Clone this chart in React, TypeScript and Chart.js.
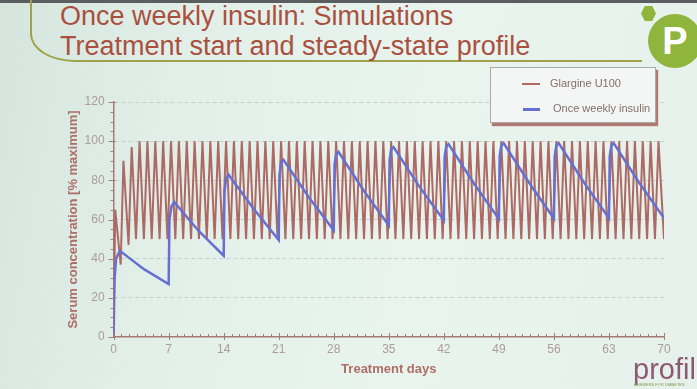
import React, { useEffect, useRef } from "react";
import { Chart, registerables } from "chart.js";

Chart.register(...registerables);

// ---- data ----
const xTickValues = [0, 7, 14, 21, 28, 35, 42, 49, 56, 63, 70];
const yTickValues = [0, 20, 40, 60, 80, 100, 120];

const glargineDays = [
  0, 0.2, 0.9, 1.25, 1.9, 2.3, 2.85,
  3.3, 3.85, 4.3, 4.85, 5.3, 5.85, 6.3, 6.85, 7.3, 7.85,
  8.3, 8.85, 9.3, 9.85, 10.3, 10.85, 11.3, 11.85, 12.3, 12.85,
  13.3, 13.85, 14.3, 14.85, 15.3, 15.85, 16.3, 16.85, 17.3, 17.85,
  18.3, 18.85, 19.3, 19.85, 20.3, 20.85, 21.3, 21.85, 22.3, 22.85,
  23.3, 23.85, 24.3, 24.85, 25.3, 25.85, 26.3, 26.85, 27.3, 27.85,
  28.3, 28.85, 29.3, 29.85, 30.3, 30.85, 31.3, 31.85, 32.3, 32.85,
  33.3, 33.85, 34.3, 34.85, 35.3, 35.85, 36.3, 36.85, 37.3, 37.85,
  38.3, 38.85, 39.3, 39.85, 40.3, 40.85, 41.3, 41.85, 42.3, 42.85,
  43.3, 43.85, 44.3, 44.85, 45.3, 45.85, 46.3, 46.85, 47.3, 47.85,
  48.3, 48.85, 49.3, 49.85, 50.3, 50.85, 51.3, 51.85, 52.3, 52.85,
  53.3, 53.85, 54.3, 54.85, 55.3, 55.85, 56.3, 56.85, 57.3, 57.85,
  58.3, 58.85, 59.3, 59.85, 60.3, 60.85, 61.3, 61.85, 62.3, 62.85,
  63.3, 63.85, 64.3, 64.85, 65.3, 65.85, 66.3, 66.85, 67.3, 67.85,
  68.3, 68.85, 69.3, 70,
];
const glargineLevels = [
  0, 65, 37, 90, 47, 97, 50,
  100, 50, 100, 50, 100, 50, 100, 50, 100, 50,
  100, 50, 100, 50, 100, 50, 100, 50, 100, 50,
  100, 50, 100, 50, 100, 50, 100, 50, 100, 50,
  100, 50, 100, 50, 100, 50, 100, 50, 100, 50,
  100, 50, 100, 50, 100, 50, 100, 50, 100, 50,
  100, 50, 100, 50, 100, 50, 100, 50, 100, 50,
  100, 50, 100, 50, 100, 50, 100, 50, 100, 50,
  100, 50, 100, 50, 100, 50, 100, 50, 100, 50,
  100, 50, 100, 50, 100, 50, 100, 50, 100, 50,
  100, 50, 100, 50, 100, 50, 100, 50, 100, 50,
  100, 50, 100, 50, 100, 50, 100, 50, 100, 50,
  100, 50, 100, 50, 100, 50, 100, 50, 100, 50,
  100, 50, 100, 50, 100, 50, 100, 50, 100, 50,
  100, 50, 100, 50,
];

const weeklyDays = [
  0, 0.1, 0.3, 0.8, 3.9, 7,
  7.1, 7.35, 7.7, 10.85, 14,
  14.1, 14.3, 14.6, 17.8, 21,
  21.1, 21.3, 21.6, 24.8, 28,
  28.1, 28.3, 28.6, 31.8, 35,
  35.1, 35.3, 35.6, 38.8, 42,
  42.1, 42.3, 42.6, 45.8, 49,
  49.1, 49.3, 49.6, 52.8, 56,
  56.1, 56.3, 56.6, 59.8, 63,
  63.1, 63.3, 63.6, 66.8, 70,
];
const weeklyLevels = [
  0, 28, 40, 44, 34.5, 27,
  60, 66.5, 69, 54, 41.5,
  74, 81, 83, 65.5, 49.5,
  83, 89, 90.5, 71.5, 54.5,
  88, 93, 94.5, 74.8, 57,
  90.5, 95.5, 97, 77.3, 59.5,
  92, 97, 98.5, 78.5, 60.3,
  92.5, 97.5, 99, 79, 60.5,
  92.5, 97.5, 99, 79, 60.7,
  92.5, 97.5, 99, 79, 60.7,
];

const seriesNames = ["Glargine U100", "Once weekly insulin"];

// ---- styles ----
const FONT = "'Liberation Sans', Arial, Helvetica, sans-serif";
const BROWN = "#ad6963";
const BLUE = "#6670d2";
const AXIS = "#a77a74";
const TICK_TEXT = "#ad9c99";
const TITLE_TEXT = "#ad6e66";
const GRID = "#c6cfcb";

const tickPlugin = {
  id: "minorMajorTicks",
  afterDraw(chart: any) {
    const { ctx, scales } = chart;
    const x = scales.x;
    const y = scales.y;
    ctx.save();
    ctx.strokeStyle = AXIS;
    ctx.lineWidth = 1;
    for (let d = 0; d <= 70; d += 1) {
      const px = Math.round(x.getPixelForValue(d)) + 0.5;
      const major = d % 7 === 0;
      ctx.beginPath();
      ctx.moveTo(px, y.bottom - (major ? 4 : 3));
      ctx.lineTo(px, y.bottom + (major ? 3 : 0));
      ctx.stroke();
    }
    for (let v = 0; v <= 120; v += 5) {
      const py = Math.round(y.getPixelForValue(v)) + 0.5;
      const major = v % 20 === 0;
      ctx.beginPath();
      ctx.moveTo(x.left - (major ? 5 : 3), py);
      ctx.lineTo(x.left + (major ? 2 : 0), py);
      ctx.stroke();
    }
    ctx.restore();
  },
};

export default function App() {
  const ref = useRef<HTMLCanvasElement>(null);

  useEffect(() => {
    const chart = new Chart(ref.current as HTMLCanvasElement, {
      type: "line",
      data: {
        datasets: [
          {
            label: seriesNames[0],
            data: glargineDays.map((d, i) => ({ x: d, y: glargineLevels[i] })),
            borderColor: BROWN,
            borderWidth: 2,
            pointRadius: 0,
            tension: 0,
            order: 1,
          },
          {
            label: seriesNames[1],
            data: weeklyDays.map((d, i) => ({ x: d, y: weeklyLevels[i] })),
            borderColor: BLUE,
            borderWidth: 2.5,
            pointRadius: 0,
            tension: 0,
            order: 0,
          },
        ],
      },
      options: {
        responsive: false,
        animation: false,
        layout: { padding: { top: 102, left: 66, right: 33, bottom: 8 } },
        plugins: { legend: { display: false }, tooltip: { enabled: false } },
        scales: {
          x: {
            type: "linear",
            min: 0,
            max: 70,
            afterBuildTicks: (s: any) => {
              s.ticks = xTickValues.map((v) => ({ value: v }));
            },
            ticks: {
              color: TICK_TEXT,
              font: { family: FONT, size: 12 },
              padding: 5,
              maxRotation: 0,
              autoSkip: false,
            },
            grid: { display: false, drawTicks: false },
            border: { color: AXIS, width: 1.5 },
            title: {
              display: true,
              text: "Treatment days",
              color: TITLE_TEXT,
              font: { family: FONT, size: 13, weight: "bold" },
              padding: { top: 0, bottom: 4 },
            },
          },
          y: {
            min: 0,
            max: 120,
            afterBuildTicks: (s: any) => {
              s.ticks = yTickValues.map((v) => ({ value: v }));
            },
            ticks: {
              color: TICK_TEXT,
              font: { family: FONT, size: 12 },
              padding: 9,
            },
            grid: {
              color: (c: any) => (c.tick && c.tick.value === 0 ? "rgba(0,0,0,0)" : GRID),
              drawTicks: false,
              lineWidth: 1,
            },
            border: { color: AXIS, width: 1.5, dash: [4, 3] },
            title: {
              display: true,
              text: "Serum concentration [% maximum]",
              color: TITLE_TEXT,
              font: { family: FONT, size: 13, weight: "bold" },
              padding: { top: 0, bottom: -6 },
            },
          },
        },
      },
      plugins: [tickPlugin],
    } as any);
    return () => chart.destroy();
  }, []);

  return (
    <div
      style={{
        position: "fixed",
        left: 0,
        top: 0,
        width: 697,
        height: 389,
        overflow: "hidden",
        background:
          "linear-gradient(100deg, #d5e5de 0%, #e2efe9 25%, #e9f4ee 60%, #e7f1ec 100%)",
        fontFamily: FONT,
      }}
    >
      {/* top bezel strip */}
      <div style={{ position: "absolute", left: 0, top: 0, width: 697, height: 3, background: "#5a5e60" }} />
      {/* olive frame */}
      <div
        style={{
          position: "absolute",
          left: 30,
          top: -10,
          width: 610,
          height: 70,
          borderLeft: "2px solid #9ea34a",
          borderBottom: "2px solid #9ea34a",
          borderBottomLeftRadius: "45px 28px",
        }}
      />
      <div
        style={{
          position: "absolute",
          left: 60,
          top: 1,
          fontSize: 27,
          lineHeight: "30px",
          color: "#a9503f",
          whiteSpace: "nowrap",
        }}
      >
        <div>Once weekly insulin: Simulations</div>
        <div>Treatment start and steady-state profile</div>
      </div>
      {/* logo */}
      <div
        style={{
          position: "absolute",
          left: 641,
          top: 6,
          width: 15,
          height: 15,
          background: "#8fb53c",
          clipPath: "polygon(25% 0, 75% 0, 100% 50%, 75% 100%, 25% 100%, 0 50%)",
        }}
      />
      <div
        style={{
          position: "absolute",
          left: 648,
          top: 14,
          width: 54,
          height: 54,
          borderRadius: "50%",
          background: "#8fb53c",
          color: "#ffffff",
          fontWeight: "bold",
          fontSize: 38,
          lineHeight: "54px",
          textAlign: "center",
        }}
      >
        P
      </div>

      <canvas ref={ref} width={697} height={389} style={{ position: "absolute", left: 0, top: 0 }} />

      {/* legend */}
      <div
        style={{
          position: "absolute",
          left: 490,
          top: 67,
          width: 164,
          height: 54,
          border: "1px solid #a9a9a9",
          background: "#f3f6f4",
          boxShadow: "2px 3px 1px rgba(160,80,70,0.75)",
          fontSize: 11,
          color: "#836f6c",
        }}
      >
        <div style={{ position: "absolute", left: 31, top: 15, width: 18, height: 2, background: BROWN }} />
        <div style={{ position: "absolute", left: 59, top: 9, whiteSpace: "nowrap" }}>{seriesNames[0]}</div>
        <div style={{ position: "absolute", left: 32, top: 40, width: 17, height: 2.5, background: BLUE }} />
        <div style={{ position: "absolute", left: 62, top: 34, whiteSpace: "nowrap" }}>{seriesNames[1]}</div>
      </div>

      {/* footer brand */}
      <div
        style={{
          position: "absolute",
          left: 633,
          top: 354,
          fontSize: 29,
          color: "#8c5a72",
          whiteSpace: "nowrap",
          lineHeight: "30px",
        }}
      >
        profil
      </div>
      <div
        style={{
          position: "absolute",
          left: 634,
          top: 382,
          fontSize: 4,
          color: "#7f9a48",
          whiteSpace: "nowrap",
        }}
      >
        ANSWERS FOR DIABETES
      </div>
    </div>
  );
}
